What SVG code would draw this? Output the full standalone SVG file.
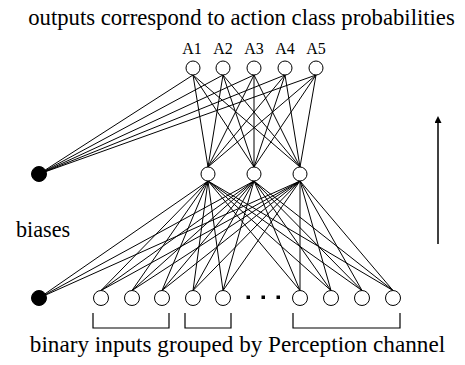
<svg xmlns="http://www.w3.org/2000/svg" width="465" height="365" viewBox="0 0 465 365">
<style>
text{font-family:"Liberation Serif","Times New Roman",serif;fill:#000}
.big{font-size:22.7px}
.lbl{font-size:16px;text-anchor:middle}
.node{fill:#fff;stroke:#000;stroke-width:1}
.bias{fill:#000;stroke:#000;stroke-width:1}
.edges line{stroke:#000;stroke-width:1}
.br{fill:none;stroke:#000;stroke-width:1.2}
</style>
<defs>
<marker id="ah" viewBox="0 0 10 10" refX="0" refY="5" markerWidth="10" markerHeight="7" markerUnits="userSpaceOnUse" orient="auto">
<path d="M0,0 L10,5 L0,10 z" fill="#000"/>
</marker>
</defs>
<rect width="465" height="365" fill="#fff"/>
<text class="big" x="241.5" y="25" text-anchor="middle">outputs correspond to action class probabilities</text>
<text class="big" x="237.5" y="352" text-anchor="middle" style="font-size:23.2px">binary inputs grouped by Perception channel</text>
<text class="big" x="16" y="237" style="font-size:22.2px">biases</text>

<g id="connectors" class="edges">
<!-- bias1 to outputs -->
<line x1="39" y1="174" x2="193" y2="75"/>
<line x1="39" y1="174" x2="223" y2="75"/>
<line x1="39" y1="174" x2="254" y2="75"/>
<line x1="39" y1="174" x2="285" y2="75"/>
<line x1="39" y1="174" x2="316" y2="75"/>
<!-- hidden to outputs -->
<line x1="208" y1="167" x2="193" y2="75"/>
<line x1="208" y1="167" x2="223" y2="75"/>
<line x1="208" y1="167" x2="254" y2="75"/>
<line x1="208" y1="167" x2="285" y2="75"/>
<line x1="208" y1="167" x2="316" y2="75"/>
<line x1="254" y1="167" x2="193" y2="75"/>
<line x1="254" y1="167" x2="223" y2="75"/>
<line x1="254" y1="167" x2="254" y2="75"/>
<line x1="254" y1="167" x2="285" y2="75"/>
<line x1="254" y1="167" x2="316" y2="75"/>
<line x1="300" y1="167" x2="193" y2="75"/>
<line x1="300" y1="167" x2="223" y2="75"/>
<line x1="300" y1="167" x2="254" y2="75"/>
<line x1="300" y1="167" x2="285" y2="75"/>
<line x1="300" y1="167" x2="316" y2="75"/>
<!-- bias2 to hidden -->
<line x1="39" y1="298" x2="208" y2="181"/>
<line x1="39" y1="298" x2="254" y2="181"/>
<line x1="39" y1="298" x2="300" y2="181"/>
<!-- inputs to hidden -->
<line x1="101" y1="290.5" x2="208" y2="181"/>
<line x1="101" y1="290.5" x2="254" y2="181"/>
<line x1="101" y1="290.5" x2="300" y2="181"/>
<line x1="132" y1="290.5" x2="208" y2="181"/>
<line x1="132" y1="290.5" x2="254" y2="181"/>
<line x1="132" y1="290.5" x2="300" y2="181"/>
<line x1="162" y1="290.5" x2="208" y2="181"/>
<line x1="162" y1="290.5" x2="254" y2="181"/>
<line x1="162" y1="290.5" x2="300" y2="181"/>
<line x1="193" y1="290.5" x2="208" y2="181"/>
<line x1="193" y1="290.5" x2="254" y2="181"/>
<line x1="193" y1="290.5" x2="300" y2="181"/>
<line x1="223" y1="290.5" x2="208" y2="181"/>
<line x1="223" y1="290.5" x2="254" y2="181"/>
<line x1="223" y1="290.5" x2="300" y2="181"/>
<line x1="300" y1="290.5" x2="208" y2="181"/>
<line x1="300" y1="290.5" x2="254" y2="181"/>
<line x1="300" y1="290.5" x2="300" y2="181"/>
<line x1="331" y1="290.5" x2="208" y2="181"/>
<line x1="331" y1="290.5" x2="254" y2="181"/>
<line x1="331" y1="290.5" x2="300" y2="181"/>
<line x1="362" y1="290.5" x2="208" y2="181"/>
<line x1="362" y1="290.5" x2="254" y2="181"/>
<line x1="362" y1="290.5" x2="300" y2="181"/>
<line x1="393" y1="290.5" x2="208" y2="181"/>
<line x1="393" y1="290.5" x2="254" y2="181"/>
<line x1="393" y1="290.5" x2="300" y2="181"/>
</g>

<g id="out-A1"><circle class="node" cx="193" cy="68" r="7"/><text class="lbl" x="192" y="54">A1</text></g>
<g id="out-A2"><circle class="node" cx="223" cy="68" r="7"/><text class="lbl" x="223" y="54">A2</text></g>
<g id="out-A3"><circle class="node" cx="254" cy="68" r="7"/><text class="lbl" x="254" y="54">A3</text></g>
<g id="out-A4"><circle class="node" cx="285" cy="68" r="7"/><text class="lbl" x="285" y="54">A4</text></g>
<g id="out-A5"><circle class="node" cx="316" cy="68" r="7"/><text class="lbl" x="316" y="54">A5</text></g>

<g id="hidden-1"><circle class="node" cx="208" cy="174" r="7"/></g>
<g id="hidden-2"><circle class="node" cx="254" cy="174" r="7"/></g>
<g id="hidden-3"><circle class="node" cx="300" cy="174" r="7"/></g>

<g id="bias-1"><circle class="bias" cx="39" cy="174" r="7.5"/></g>
<g id="bias-2"><circle class="bias" cx="39" cy="298" r="7.5"/></g>

<g id="in-1"><circle class="node" cx="101" cy="298" r="7.5"/></g>
<g id="in-2"><circle class="node" cx="132" cy="298" r="7.5"/></g>
<g id="in-3"><circle class="node" cx="162" cy="298" r="7.5"/></g>
<g id="in-4"><circle class="node" cx="193" cy="298" r="7.5"/></g>
<g id="in-5"><circle class="node" cx="223" cy="298" r="7.5"/></g>
<g id="in-6"><circle class="node" cx="300" cy="298" r="7.5"/></g>
<g id="in-7"><circle class="node" cx="331" cy="298" r="7.5"/></g>
<g id="in-8"><circle class="node" cx="362" cy="298" r="7.5"/></g>
<g id="in-9"><circle class="node" cx="393" cy="298" r="7.5"/></g>

<g id="ellipsis">
<rect x="246.5" y="295.5" width="3.5" height="3.5" fill="#000"/>
<rect x="261.5" y="295.5" width="3.5" height="3.5" fill="#000"/>
<rect x="276.5" y="295.5" width="3.5" height="3.5" fill="#000"/>
</g>

<g id="brackets">
<path class="br" d="M93,313 V328 H169 V313"/>
<path class="br" d="M185,313 V328 H231 V313"/>
<path class="br" d="M293,313 V328 H400 V313"/>
</g>

<g id="direction-arrow">
<line x1="438" y1="244" x2="438" y2="123" stroke="#000" stroke-width="1.5" marker-end="url(#ah)"/>
</g>
</svg>
